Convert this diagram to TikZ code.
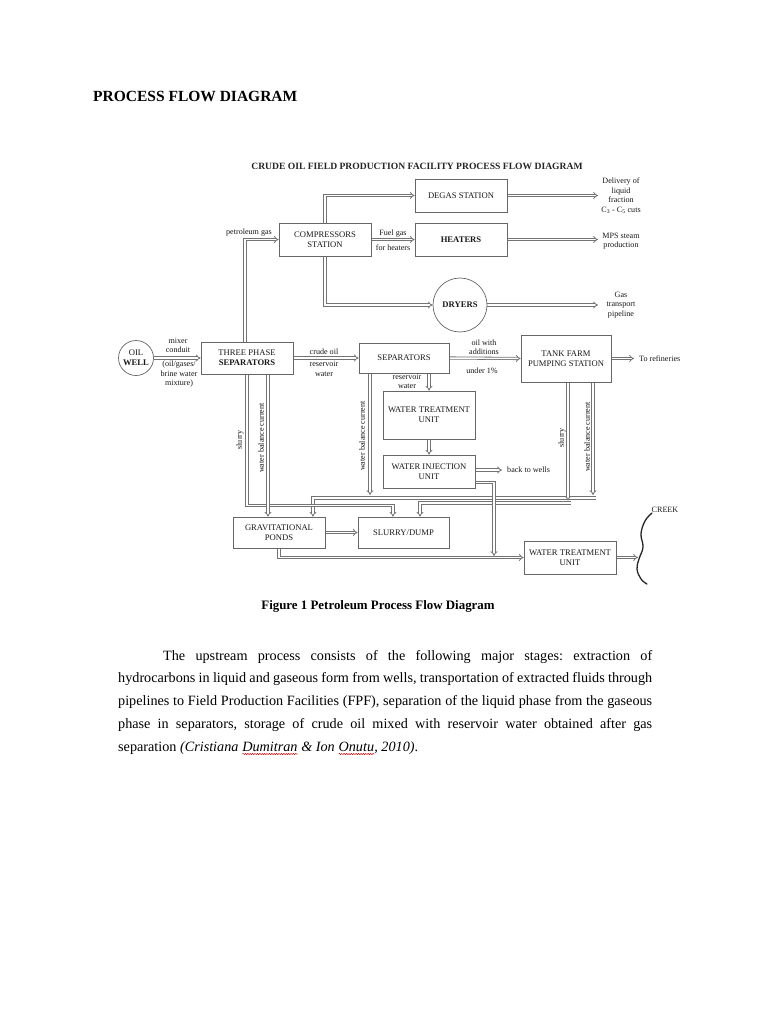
\documentclass[tikz,border=0pt]{standalone}
\usepackage{fontspec}
\setmainfont{Liberation Serif}
\usetikzlibrary{arrows.meta,decorations.pathmorphing}
\pgfdeclarelayer{back}
\pgfdeclarelayer{bg}
\pgfsetlayers{back,bg,main}
\newcommand\redsquig[1]{\tikz[baseline=(sq.base)]{\node[inner sep=0pt,outer sep=0pt] (sq) {#1};\draw[red!85!black, line width=0.5pt, decorate, decoration={snake, amplitude=0.6pt, segment length=2.4pt}] ([yshift=-2.8pt]sq.base west) -- ([yshift=-2.8pt]sq.base east);}}
\begin{document}
\begin{tikzpicture}[x=1pt,y=-1pt,
  box/.style={draw=black!60, fill=white, line width=0.7pt, inner sep=1pt, align=center,
    font=\fontsize{8.6}{10}\selectfont, text=black!90},
  circ/.style={box, circle, inner sep=0pt},
  pipe/.style={draw=black!55, double=white, double distance=1.5pt, line width=0.8pt, -{Implies}},
  lbl/.style={font=\fontsize{8.1}{9.5}\selectfont, align=center, inner sep=0pt, text=black!90},
  vlbl/.style={lbl, rotate=90},
  creekline/.style={line width=1.3pt, black!85, line cap=round}]
\begin{pgfonlayer}{back}
\fill[white] (0,0) rectangle (768,1024);
\end{pgfonlayer}
\useasboundingbox (0,0) rectangle (768,1024);

% headings
\node[font=\fontsize{15.5}{18}\selectfont\bfseries, anchor=west, inner sep=0pt] (title) at (93,96) {PROCESS FLOW DIAGRAM};
\node[font=\fontsize{9.6}{11}\selectfont\bfseries, inner sep=0pt, text=black!85] (dtitle) at (417,166) {CRUDE OIL FIELD PRODUCTION FACILITY PROCESS FLOW DIAGRAM};

% free ends of connectors
\coordinate (liqout) at (598,195.5);
\coordinate (steamout) at (598,239.5);
\coordinate (gasout) at (598,305);
\coordinate (refout) at (634,358.5);
\coordinate (wells) at (502,470);
\coordinate (wiuturn) at (494,482.5);
\coordinate (wiudown) at (494,556);
\coordinate (tpsslurry) at (247,505.5);
\coordinate (sepwb) at (370,495);
\coordinate (tankwb) at (593,495);
\coordinate (lineA) at (595.5,498);
\coordinate (tanksl) at (568,500.5);
\coordinate (lineB) at (570.5,503);
\coordinate (creekin) at (638,557.5);

% boxes
\node[box, minimum width=92pt, minimum height=33pt] (degas) at (461,195.5) {DEGAS STATION};
\node[box, minimum width=92pt, minimum height=33pt] (heaters) at (461,239.5) {\bfseries HEATERS};
\node[box, minimum width=92pt, minimum height=33pt] (comp) at (325,239.5) {COMPRESSORS\\STATION};
\node[circ, minimum size=54pt] (dryers) at (460,305) {\bfseries DRYERS};
\node[circ, minimum size=35pt] (well) at (136,358) {OIL\\\bfseries WELL};
\node[box, minimum width=92pt, minimum height=32pt] (tps) at (247,358) {THREE PHASE\\\bfseries SEPARATORS};
\node[box, minimum width=90pt, minimum height=30pt] (sep) at (404,358) {SEPARATORS};
\node[box, minimum width=90pt, minimum height=47pt] (tank) at (566,358.5) {TANK FARM\\PUMPING STATION};
\node[box, minimum width=92pt, minimum height=48pt] (wtu1) at (429,415) {WATER TREATMENT\\UNIT};
\node[box, minimum width=92pt, minimum height=33pt] (wiu) at (429,471.5) {WATER INJECTION\\UNIT};
\node[box, minimum width=92pt, minimum height=31pt] (ponds) at (279,532.5) {GRAVITATIONAL\\PONDS};
\node[box, minimum width=91pt, minimum height=31pt] (slurry) at (403.5,532.5) {SLURRY/DUMP};
\node[box, minimum width=92pt, minimum height=33pt] (wtu2) at (570,557.5) {WATER TREATMENT\\UNIT};

% pipes (behind the boxes)
\begin{pgfonlayer}{bg}
\draw[pipe] ([xshift=-2pt]tps.north) |- (comp.west);
\draw[pipe] (comp.north) |- (degas.west);
\draw[pipe] (comp.south) |- (dryers.west);
\draw[pipe] (comp.east) -- (heaters.west);
\draw[pipe] (degas.east) -- (liqout);
\draw[pipe] (heaters.east) -- (steamout);
\draw[pipe] (dryers.east) -- (gasout);
\draw[pipe] (well.east) -- (tps.west);
\draw[pipe] (tps.east) -- (sep.west);
\draw[pipe] (sep.east) -- (tank.west);
\draw[pipe] (tank.east) -- (refout);
\draw[pipe] (sep.south -| wtu1.north) -- (wtu1.north);
\draw[pipe] (wtu1.south) -- (wiu.north);
\draw[pipe] (wiu.east |- wells) -- (wells);
\draw[pipe] (lineA) -| ([xshift=34pt]ponds.north);
\draw[pipe] (lineB) -| ([xshift=16.5pt]slurry.north);
\draw[pipe] (tps.south) -- (tpsslurry) -| ([xshift=-10.5pt]slurry.north);
\draw[pipe] ([xshift=21pt]tps.south) -- ([xshift=-11pt]ponds.north);
\draw[pipe] (sep.south -| sepwb) -- (sepwb);
\draw[pipe] (tank.south -| tankwb) -- (tankwb);
\draw[pipe] (tank.south -| tanksl) -- (tanksl);
\draw[pipe] (ponds.south) |- (wtu2.west);
\draw[pipe] (wiu.east |- wiuturn) -- (wiuturn) -- (wiudown);
\draw[pipe] (ponds.east) -- (slurry.west);
\draw[pipe] (wtu2.east) -- (creekin);
\end{pgfonlayer}

% creek
\draw[creekline] plot[smooth, tension=0.7] coordinates {(652,513) (645,521) (641,534) (643,547) (639,559) (637,569) (641,579) (647,584)};
\node[lbl] (lcreek) at (665,509.5) {CREEK};

% labels
\node[lbl] (lpg) at (249,233) {petroleum gas};
\node[lbl] (lfuel) at (393,233.5) {Fuel gas};
\node[lbl] (lfuel2) at (393,248) {for heaters};
\node[lbl] (lliq) at (621,195.5) {Delivery of\\liquid\\fraction\\C\textsubscript{3} - C\textsubscript{5} cuts};
\node[lbl] (lsteam) at (621,241) {MPS steam\\production};
\node[lbl] (lgas) at (621,305) {Gas\\transport\\pipeline};
\node[lbl] (lmix1) at (178,345.5) {mixer\\conduit};
\node[lbl] (lmix2) at (179,374.5) {(oil/gases/\\brine water\\mixture)};
\node[lbl] (lcrude) at (324,351.5) {crude oil};
\node[lbl] (lres) at (324,369) {reservoir\\water};
\node[lbl] (loil) at (484,347) {oil with\\additions};
\node[lbl] (lunder) at (482,370.5) {under 1\%};
\node[lbl, anchor=west] (lref) at (639,358.5) {To refineries};
\node[lbl] (lres2) at (407,381.5) {reservoir\\water};
\node[lbl, anchor=west] (lwells) at (507,469.5) {back to wells};
\node[vlbl] (vs1) at (240,440) {slurry};
\node[vlbl] (vw1) at (261,438) {water balance current};
\node[vlbl] (vw2) at (362,436) {water balance current};
\node[vlbl] (vs2) at (562,438) {slurry};
\node[vlbl] (vw3) at (587,437) {water balance current};

% caption and paragraph
\node[font=\fontsize{12.9}{15}\selectfont\bfseries, inner sep=0pt, anchor=base] (cap) at (378,609.5) {Figure 1 Petroleum Process Flow Diagram};
\node[anchor=north west, inner sep=0pt, text width=534pt, align=justify,
  font=\fontsize{14.2}{22.75}\selectfont] (para) at (118,650)
  {\frenchspacing\hspace*{45pt}The upstream process consists of the following major stages: extraction of\linebreak
  hydrocarbons in liquid and gaseous form from wells, transportation of extracted fluids through\linebreak
  pipelines to Field Production Facilities (FPF), separation of the liquid phase from the gaseous\linebreak
  phase in separators, storage of crude oil mixed with reservoir water obtained after gas\linebreak
  separation \textit{(Cristiana \redsquig{Dumitran} \& Ion \redsquig{Onutu}, 2010)}.};
\end{tikzpicture}
\end{document}
